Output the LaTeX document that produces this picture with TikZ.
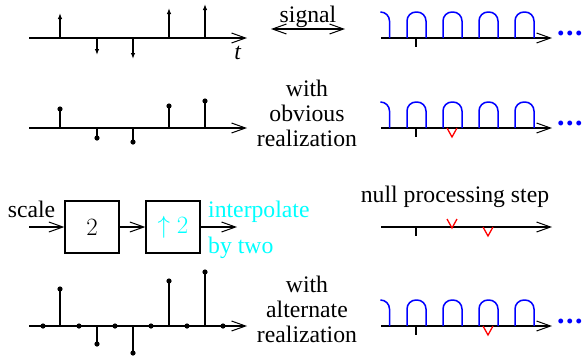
\documentclass[tikz,border=0pt]{standalone}
\usepackage{fontspec}
\setmainfont{Liberation Serif}
\usetikzlibrary{arrows.meta,calc}
\definecolor{aqua}{RGB}{0,255,255}

\tikzset{
  axis/.style={line width=1.3pt,-{Straight Barb[length=14pt,width=10pt,line width=1pt]}},
  flow/.style={line width=1.3pt,-{Straight Barb[length=14pt,width=10pt,line width=1pt]}},
  twoway/.style={line width=1.3pt,{Straight Barb[length=14pt,width=10pt,line width=1pt]}-{Straight Barb[length=14pt,width=10pt,line width=1pt]}},
  impulse/.style={line width=1.3pt,-{Latex[length=6pt,width=4.5pt]}},
  stem/.style={line width=1.3pt},
  hump/.style={blue,line width=1.5pt,rounded corners=9pt},
  tick/.style={line width=1.3pt},
  vmark/.style={red,line width=1.3pt},
  blockbox/.style={draw,line width=1.3pt,minimum width=54pt,minimum height=52pt,inner sep=0pt},
  etc/.style={blue,inner sep=0pt,anchor=base west,font=\fontsize{30}{30}\selectfont\bfseries}
}

\begin{document}
\begin{tikzpicture}[x=1pt,y=-1pt,font=\fontsize{23.7}{25}\selectfont]
\useasboundingbox (0,0) rectangle (582,360);

% first row : impulses
\draw[axis] (29,38) -- (247,38);
\draw[impulse] (60,38) -- (60,13);
\draw[impulse] (97,38) -- (97,55);
\draw[impulse] (133,38) -- (133,59);
\draw[impulse] (169,38) -- (169,8);
\draw[impulse] (205,38) -- (205,4);
\node[inner sep=0pt] (tlbl) at (238,53) {\textit{t}};

\coordinate (sl) at (271,29);
\coordinate (sr) at (345,29);
\draw[twoway] (sl) -- node[above=1pt,inner sep=0pt] (sig) {signal} (sr);

\draw[axis] (381,38) -- (552,38);
\draw[hump] (381,12) -- (389.5,12) -- (389.5,38)
  (407,38) -- ++(0,-26) -- ++(19,0) -- ++(0,26)
  (443,38) -- ++(0,-26) -- ++(19,0) -- ++(0,26)
  (479,38) -- ++(0,-26) -- ++(19,0) -- ++(0,26)
  (515,38) -- ++(0,-26) -- ++(19,0) -- ++(0,26);
\draw[tick] (416,38) -- (416,47);
\node[etc] (etc1) at (557,35.5) {.\kern1.5pt.\kern1.5pt.};

% second row : obvious realization
\draw[axis] (29,128) -- (247,128);
\draw[stem] (60,128) -- (60,109);
\draw[stem] (97,128) -- (97,138);
\draw[stem] (133,128) -- (133,142);
\draw[stem] (169,128) -- (169,106);
\draw[stem] (205,128) -- (205,101);
\fill (60,109) circle (2.6pt) (97,138) circle (2.6pt) (133,142) circle (2.6pt)
  (169,106) circle (2.6pt) (205,101) circle (2.6pt);

\node[anchor=base,align=center,inner sep=0pt] (obv) at (307,146) {with\\obvious\\realization};

\draw[axis] (381,128) -- (552,128);
\draw[hump] (381,102) -- (389.5,102) -- (389.5,128)
  (407,128) -- ++(0,-26) -- ++(19,0) -- ++(0,26)
  (443,128) -- ++(0,-26) -- ++(19,0) -- ++(0,26)
  (479,128) -- ++(0,-26) -- ++(19,0) -- ++(0,26)
  (515,128) -- ++(0,-26) -- ++(19,0) -- ++(0,26);
\draw[tick] (416,128) -- (416,137);
\draw[vmark] (447,128) -- (452,137) -- (457,128);
\node[etc] (etc2) at (557,125.5) {.\kern1.5pt.\kern1.5pt.};

% third row : blocks
\coordinate (in) at (29,227);
\coordinate (out) at (237,227);
\node[blockbox] (scl) at (92,227) {$2$};
\node[blockbox] (up) at (173,227) {\color{aqua}$\uparrow 2$};
\draw[flow] (in) -- (scl);
\draw[flow] (scl) -- (up);
\draw[flow] (up) -- (out);
\node[anchor=base,inner sep=0pt] (scllbl) at (31.5,217) {scale};
\node[anchor=base west,aqua,align=left,inner sep=0pt,font=\fontsize{23.7}{36}\selectfont] (interp) at (208,253) {interpolate\\by two};

\node[anchor=base,inner sep=0pt] (null) at (455,202) {null processing step};
\draw[axis] (381,227) -- (552,227);
\draw[tick] (416,227) -- (416,236);
\draw[vmark] (447,219) -- (452,228) -- (457,219);
\draw[vmark] (483,227) -- (488,236) -- (493,227);

% fourth row : alternate realization
\draw[axis] (29,326) -- (247,326);
\draw[stem] (60,326) -- (60,289);
\draw[stem] (97,326) -- (97,344);
\draw[stem] (133,326) -- (133,353);
\draw[stem] (169,326) -- (169,281);
\draw[stem] (205,326) -- (205,272);
\fill (60,289) circle (2.6pt) (97,344) circle (2.6pt) (133,353) circle (2.6pt)
  (169,281) circle (2.6pt) (205,272) circle (2.6pt);
\fill (43,326) circle (2.6pt) (79,326) circle (2.6pt) (115,326) circle (2.6pt)
  (151,326) circle (2.6pt) (187,326) circle (2.6pt) (223,326) circle (2.6pt);

\node[anchor=base,align=center,inner sep=0pt] (alt) at (307,342) {with\\alternate\\realization};

\draw[axis] (381,326) -- (552,326);
\draw[hump] (381,300) -- (389.5,300) -- (389.5,326)
  (407,326) -- ++(0,-26) -- ++(19,0) -- ++(0,26)
  (443,326) -- ++(0,-26) -- ++(19,0) -- ++(0,26)
  (479,326) -- ++(0,-26) -- ++(19,0) -- ++(0,26)
  (515,326) -- ++(0,-26) -- ++(19,0) -- ++(0,26);
\draw[tick] (416,326) -- (416,335);
\draw[vmark] (483,326) -- (488,335) -- (493,326);
\node[etc] (etc3) at (557,323.5) {.\kern1.5pt.\kern1.5pt.};

\end{tikzpicture}
\end{document}
